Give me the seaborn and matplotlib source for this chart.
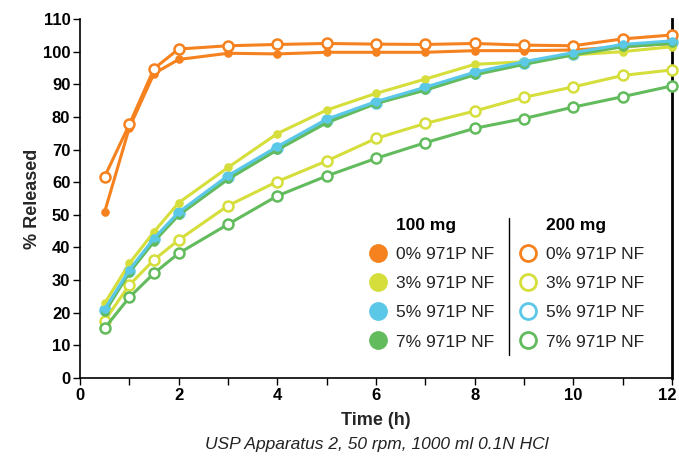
import numpy as np
import pandas as pd
import seaborn as sns
import matplotlib.pyplot as plt
import matplotlib.transforms as mtransforms
from matplotlib.lines import Line2D

# time points (h)
time = [0.5, 1, 1.5, 2, 3, 4, 5, 6, 7, 8, 9, 10, 11, 12]

# 100 mg tablets (filled markers)
mg100_0 = [50.9, 76.7, 93.3, 97.6, 99.5, 99.3, 99.8, 99.8, 99.8, 100.3, 100.3, 100.5, 101.5, 102.5]
mg100_3 = [22.9, 35.1, 44.8, 53.7, 64.5, 74.9, 82.1, 87.2, 91.6, 96.1, 96.9, 99.0, 100.0, 101.5]
mg100_5 = [21.1, 33.1, 42.8, 50.8, 62.0, 70.9, 79.3, 84.7, 89.1, 93.7, 96.9, 99.7, 102.2, 103.3]
mg100_7 = [20.1, 32.3, 41.8, 49.9, 60.9, 69.9, 78.2, 84.1, 88.2, 92.9, 96.1, 99.0, 101.5, 102.5]

# 200 mg tablets (open markers)
mg200_0 = [61.7, 77.7, 94.8, 100.8, 101.8, 102.2, 102.5, 102.3, 102.2, 102.5, 102.0, 101.8, 103.9, 105.1]
mg200_3 = [17.6, 28.5, 36.2, 42.3, 52.8, 60.2, 66.5, 73.4, 78.0, 81.8, 86.0, 89.2, 92.7, 94.4]
mg200_5 = [20.8, 32.8, 42.5, 50.5, 61.7, 70.6, 79.0, 84.4, 88.8, 93.4, 96.6, 99.4, 101.9, 103.0]
mg200_7 = [15.3, 24.7, 32.1, 38.2, 47.1, 55.8, 61.9, 67.3, 72.1, 76.5, 79.5, 83.0, 86.2, 89.5]

labels = ["0% 971P NF", "3% 971P NF", "5% 971P NF", "7% 971P NF"]
colors = ["#F5821F", "#D5DE3A", "#5BC8E8", "#62BB5C"]

sns.set_theme(style="ticks")
plt.rcParams['font.family'] = ['Liberation Sans', 'DejaVu Sans']

fig = plt.figure(figsize=(6.79, 4.63), dpi=100)
ax = fig.add_axes([80 / 679, 1 - 378 / 463, 592 / 679, 359 / 463])

lw = 2.2


def draw(vals, color, filled, z):
    sns.lineplot(x=time, y=vals, ax=ax, color=color, lw=lw, marker='o',
                 markersize=6.2 if filled else 7.2,
                 markerfacecolor=color if filled else 'white',
                 markeredgecolor=color, markeredgewidth=0 if filled else 1.8,
                 zorder=z, clip_on=False)


# drawing order roughly as in the reference
draw(mg200_5, colors[2], False, 2)
draw(mg100_0, colors[0], True, 3)
draw(mg200_0, colors[0], False, 4)
draw(mg200_3, colors[1], False, 5)
draw(mg200_7, colors[3], False, 6)
draw(mg100_3, colors[1], True, 7)
draw(mg100_7, colors[3], True, 8)
draw(mg100_5, colors[2], True, 9)

ax.set_xlim(0, 12)
ax.set_ylim(0, 110)
ax.set_xticks(range(0, 13))
ax.set_xticklabels([str(i) if i % 2 == 0 else '' for i in range(13)])
ax.set_yticks(range(0, 111, 10))
for lab in ax.get_xticklabels() + ax.get_yticklabels():
    lab.set_fontweight('bold')
ax.tick_params(axis='both', labelsize=12, length=5, width=1, color='black',
               labelcolor='black', direction='out', pad=2)

# nudge the last x label so it stays inside the figure
last = ax.get_xticklabels()[-1]
last.set_transform(last.get_transform() +
                   mtransforms.ScaledTranslation(-5 / 100, 0, fig.dpi_scale_trans))

ax.spines['top'].set_visible(False)
for s in ['left', 'bottom']:
    ax.spines[s].set_linewidth(1.2)
    ax.spines[s].set_color('black')
ax.spines['right'].set_linewidth(2)
ax.spines['right'].set_color('black')

ax.set_xlabel('Time (h)', fontsize=13, fontweight='bold', labelpad=6.5)
ax.set_ylabel('% Released', fontsize=13, fontweight='bold', labelpad=1.5)

fig.text((80 + 674) / 2 / 679, 1 - 444 / 463, 'USP Apparatus 2, 50 rpm, 1000 ml 0.1N HCl',
         ha='center', va='center', fontsize=12.5, style='italic', color='#222222')

# legend: two columns with headers
blank = Line2D([], [], ls='none')
handles = [blank]
texts = ['100 mg']
for c, l in zip(colors, labels):
    handles.append(Line2D([], [], ls='none', marker='o', ms=12.5, mfc=c, mec=c))
    texts.append(l)
handles.append(blank)
texts.append('200 mg')
for c, l in zip(colors, labels):
    handles.append(Line2D([], [], ls='none', marker='o', ms=11.5, mfc='white', mec=c, mew=2))
    texts.append(l)

leg = ax.legend(handles, texts, ncol=2, frameon=False, fontsize=12.5,
                loc='upper left', bbox_to_anchor=(0.488, 0.447),
                borderaxespad=0, borderpad=0, handlelength=1.0,
                handletextpad=0.55, columnspacing=1.45, labelspacing=0.81)
for t in leg.get_texts():
    t.set_color('#222222')
leg.get_texts()[0].set_fontweight('bold')
leg.get_texts()[5].set_fontweight('bold')
leg.get_texts()[0].set_color('black')
leg.get_texts()[5].set_color('black')

# divider between the legend columns
ax.plot([0.724, 0.724], [0.446, 0.064], transform=ax.transAxes,
        color='black', lw=1, clip_on=False)

fig.savefig('out.png', dpi=100)
